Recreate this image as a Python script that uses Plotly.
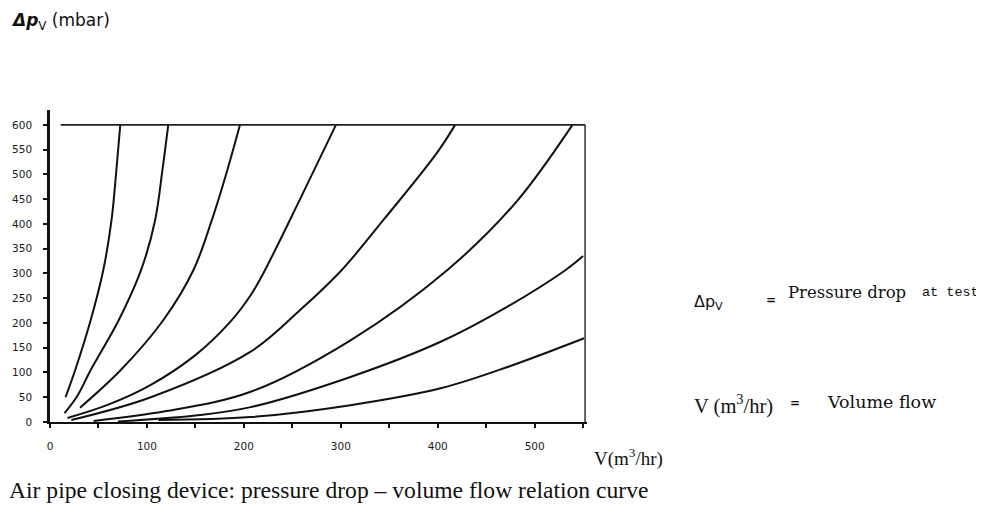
import plotly.graph_objects as go

# ---------------- data ----------------
# volume flow V (m3/hr) and pressure drop dp (mbar) for each of the 8 curves
c1_v = [16, 26, 42, 55, 63.5, 68.5, 72.5]
c1_p = [50, 105, 206, 307, 408, 509, 600]
c2_v = [15, 28, 42, 71, 94, 108.5, 116, 122]
c2_p = [18, 52, 105, 206, 307, 408, 509, 600]
c3_v = [31, 73, 117, 148, 167, 183, 196]
c3_p = [29, 105, 206, 307, 408, 509, 600]
c4_v = [18, 60, 104, 150, 185, 207, 220, 258, 295]
c4_p = [8, 35, 75, 135, 200, 256, 300, 450, 600]
c5_v = [22, 104, 207, 258, 301, 344, 399, 418]
c5_p = [4, 50, 142, 226, 307, 408, 543, 600]
c6_v = [45, 120, 207, 310, 410, 480, 539]
c6_p = [2, 22, 61, 165, 307, 442, 600]
c7_v = [70, 150, 207, 310, 403, 472, 532, 550]
c7_p = [1, 13, 30, 91, 162, 233, 307, 335]
c8_v = [112, 207, 310, 403, 472, 551]
c8_p = [4, 10, 34, 68, 111, 169]

limit_v = [11, 552]       # top limit line (600 mbar)
limit_p = [600, 600]
edge_v = [552, 552]       # right-hand limit line
edge_p = [0, 600]

x_ticks = [0, 50, 100, 150, 200, 250, 300, 350, 400, 450, 500, 550]
x_labels = ["0", "", "100", "", "200", "", "300", "", "400", "", "500", ""]
y_ticks = [0, 50, 100, 150, 200, 250, 300, 350, 400, 450, 500, 550, 600]
y_labels = [str(v) for v in y_ticks]

curves = [(c1_v, c1_p), (c2_v, c2_p), (c3_v, c3_p), (c4_v, c4_p),
          (c5_v, c5_p), (c6_v, c6_p), (c7_v, c7_p), (c8_v, c8_p)]

# ---------------- figure ----------------
W, H = 984, 510
OFF = 8                      # page body margin of the browser
ML, MR, MT, MB = 42, 405, 102, 96
PW, PH = W - ML - MR, H - MT - MB

fig = go.Figure()
for v, p in curves:
    fig.add_trace(go.Scatter(x=v, y=p, mode="lines",
                             line=dict(color="#111", width=2, shape="spline", smoothing=1.0),
                             hoverinfo="skip"))
fig.add_trace(go.Scatter(x=limit_v, y=limit_p, mode="lines",
                         line=dict(color="#222", width=1.8), hoverinfo="skip"))
fig.add_trace(go.Scatter(x=edge_v, y=edge_p, mode="lines",
                         line=dict(color="#222", width=1.4), hoverinfo="skip"))


def px(xp):
    return (xp - OFF - ML) / PW


def py(yp):
    return (H - MB - (yp - OFF)) / PH


def note(text, x, y, size, family, xanchor="left"):
    fig.add_annotation(text=text, x=px(x), y=py(y), xref="paper", yref="paper",
                       xanchor=xanchor, yanchor="middle", showarrow=False,
                       borderpad=0,
                       font=dict(size=size, family=family, color="#111"))


note("<b><i>Δp</i></b><sub>V</sub> (mbar)", 10, 22, 17, "DejaVu Sans")
note("V(m<sup>3</sup>/hr)", 593, 457, 19, "Liberation Serif")
note("Air pipe closing device: pressure drop – volume flow relation curve",
     8, 490, 23.6, "Liberation Serif")
note("Δp<sub>V</sub>", 693, 302, 16, "DejaVu Sans")
note("<b>=</b>", 765, 300, 12, "DejaVu Sans")
note("Pressure drop", 787, 292, 16.5, "DejaVu Serif")
note("at test", 921, 292, 13.5, "Liberation Mono")
note("V (m<sup>3</sup>/hr)", 693, 404, 20.5, "Liberation Serif")
note("<b>=</b>", 789, 403, 12, "DejaVu Sans")
note("Volume flow", 826, 402, 17.5, "DejaVu Serif")

axis_common = dict(showgrid=False, zeroline=False, showline=True, linecolor="#111",
                   ticks="outside", ticklen=4, tickwidth=1.5, tickcolor="#111",
                   automargin=False,
                   tickfont=dict(size=10.5, family="DejaVu Sans", color="#1a1a1a"))

fig.update_layout(
    width=W, height=H,
    margin=dict(l=ML, r=MR, t=MT, b=MB),
    paper_bgcolor="white", plot_bgcolor="white",
    showlegend=False,
    xaxis=dict(range=[0, 554], tickvals=x_ticks, ticktext=x_labels, linewidth=2,
               ticklabelstandoff=9, **axis_common),
    yaxis=dict(range=[0, 630], tickvals=y_ticks, ticktext=y_labels, linewidth=2.5,
               ticklabelstandoff=9, **axis_common),
)

fig.write_html("out.html")
